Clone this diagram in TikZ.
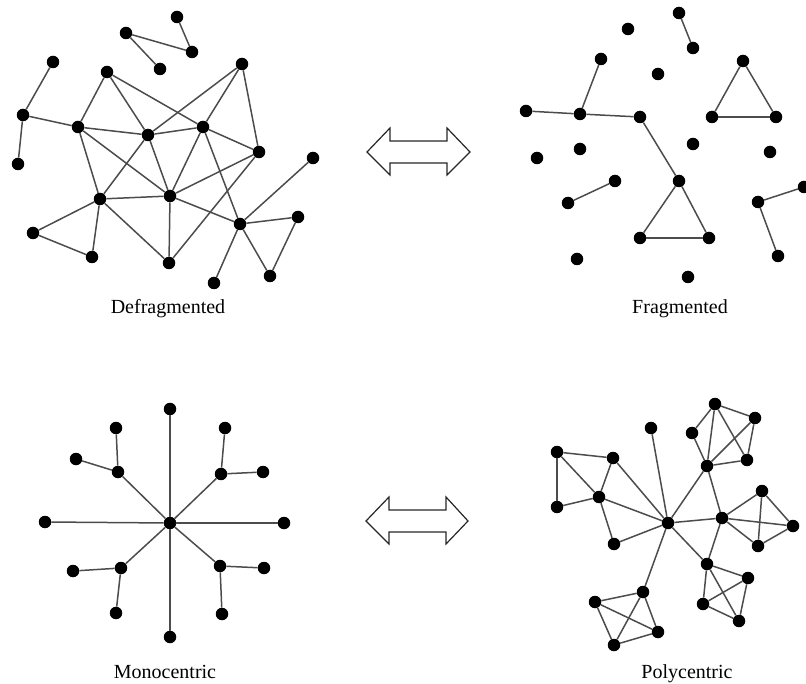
\documentclass[tikz,border=0pt]{standalone}
\usepackage{fontspec}
\setmainfont{Liberation Serif}
\usepackage{tikz}

\begin{document}
\begin{tikzpicture}[x=1pt,y=-1pt,
  dot/.style={circle,fill=black,inner sep=0pt,minimum size=12.5pt},
  edge/.style={black!70,line width=1.5pt},
  bigarrow/.style={black!85,line width=1.2pt,line join=miter},
  caption/.style={anchor=base,font=\fontsize{20}{23}\selectfont}]
\useasboundingbox (0,0) rectangle (806,684);

% defragmented
\foreach \n/\x/\y in {A/177/17,B/126/33,C/192/52,D/160/69,E/53/62,F/107/72,G/242/64,
  H/23/115,I/78/127,J/148/135,K/203/127,L/18/164,M/259/152,N/313/158,O/100/199,
  P/170/196,Q/240/224,R/298/217,S/33/233,T/92/257,U/169/263,V/270/276,W/214/283}
  \node[dot] (d\n) at (\x,\y) {};
\foreach \a/\b in {A/C,B/C,B/D,E/H,H/L,H/I,F/I,F/J,F/K,I/J,J/K,J/G,G/K,G/M,K/M,
  I/O,I/P,J/O,J/P,K/P,K/Q,M/P,M/U,O/P,O/S,O/T,S/T,O/U,P/U,P/Q,Q/N,Q/R,Q/V,R/V,Q/W}
  \draw[edge] (d\a) -- (d\b);
\node[caption] (defrag) at (168,314) {Defragmented};

% fragmented
\foreach \n/\x/\y in {a/679/13,b/693/48,c/628/29,d/601/59,e/658/74,f/743/61,
  g/526/111,h/580/114,i/640/117,j/712/117,k/776/117,l/537/158,m/580/149,n/693/144,
  o/770/152,p/615/181,q/679/181,r/568/203,s/758/202,t/804/187,u/640/238,v/709/238,
  w/778/256,x/577/259,y/688/277}
  \node[dot] (f\n) at (\x,\y) {};
\foreach \a/\b in {a/b,d/h,g/h,h/i,i/q,f/j,f/k,j/k,p/r,q/u,q/v,u/v,s/t,s/w}
  \draw[edge] (f\a) -- (f\b);
\node[caption] (frag) at (680,314) {Fragmented};

% monocentric
\foreach \n/\x/\y in {C/170/523,T/170/409,B/170/637,L/45/522,R/284/523,
  UL/118/472,ULa/116/428,ULb/76/459,UR/221/474,URa/225/428,URb/263/472,
  LL/121/568,LLa/73/571,LLb/116/613,LR/220/566,LRa/264/568,LRb/222/614}
  \node[dot] (m\n) at (\x,\y) {};
\foreach \a/\b in {C/T,C/B,C/L,C/R,C/UL,C/UR,C/LL,C/LR,UL/ULa,UL/ULb,UR/URa,UR/URb,
  LL/LLa,LL/LLb,LR/LRa,LR/LRb}
  \draw[edge] (m\a) -- (m\b);
\node[caption] (mono) at (165,678) {Monocentric};

% polycentric
\foreach \n/\x/\y in {C/668/523,1/651/428,2/715/404,3/755/418,4/692/433,5/707/466,
  6/747/460,7/557/452,8/613/458,9/599/497,10/557/507,11/614/544,12/722/518,
  13/762/491,14/793/526,15/758/546,16/707/564,17/748/578,18/703/604,19/739/621,
  20/643/592,21/595/602,22/658/632,23/614/645}
  \node[dot] (p\n) at (\x,\y) {};
\foreach \a/\b in {C/1,C/5,C/12,C/16,C/20,C/11,C/9,C/8,
  2/4,2/3,2/5,2/6,3/5,3/6,5/6,4/5,5/12,
  7/8,7/10,7/9,10/9,8/9,9/11,
  12/13,12/14,12/15,13/14,13/15,14/15,12/16,
  16/17,16/18,16/19,17/18,17/19,18/19,
  20/21,20/22,20/23,21/22,21/23,22/23}
  \draw[edge] (p\a) -- (p\b);
\node[caption] (poly) at (687,678) {Polycentric};

% double arrows
\draw[bigarrow] (367,152) -- (390,128) -- (390,141) -- (447,141) -- (447,128)
  -- (470,152) -- (447,175) -- (447,163) -- (390,163) -- (390,175) -- cycle;
\draw[bigarrow] (366,521) -- (389,497) -- (389,510) -- (446,510) -- (446,497)
  -- (468,521) -- (446,544) -- (446,532) -- (389,532) -- (389,544) -- cycle;
\end{tikzpicture}
\end{document}
